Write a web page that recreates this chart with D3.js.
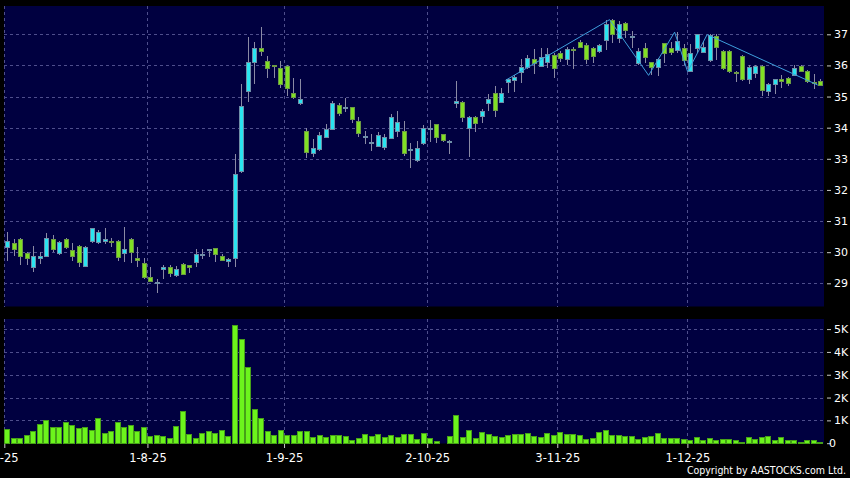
<!DOCTYPE html>
<html>
<head>
<meta charset="utf-8">
<script src="https://cdn.jsdelivr.net/npm/d3@7/dist/d3.min.js"></script>
<style>
  body { margin: 0; background: #000; }
  #chart { width: 850px; height: 478px; }
  text { font-family: "DejaVu Sans", sans-serif; }
</style>
</head>
<body>
<div id="chart"></div>
<script>
// Daily prices, one entry per trading day from 2-7-25
const openPrices = [
  30.16, 30.31, 30.41, 29.96, 29.51, 29.80, 29.89, 30.41, 29.96, 30.41,
  30.06, 30.19, 29.55, 30.35, 30.32, 30.35, 30.36, 30.35, 29.96, 30.41,
  29.80, 29.64, 29.19, 29.00, 29.45, 29.51, 29.26, 29.61, 29.58, 29.67,
  29.93, 30.09, 30.12, 29.87, 29.71, 29.80, 32.60, 35.17, 36.10, 36.55,
  36.13, 36.00, 35.91, 35.97, 35.10, 34.80, 33.89, 33.18, 33.32, 33.71,
  33.95, 34.72, 34.67, 34.67, 34.22, 33.74, 33.55, 33.42, 33.39, 33.66,
  33.90, 33.89, 33.30, 32.96, 33.50, 34.00, 34.11, 33.79, 33.53, 34.78,
  34.83, 34.00, 34.35, 34.38, 34.78, 35.10, 34.82, 35.48, 35.54, 35.78,
  35.94, 36.20, 35.98, 36.10, 36.33, 36.39, 36.20, 36.52, 36.74, 36.65,
  36.55, 36.47, 36.81, 37.47, 36.88, 37.35, 36.95, 36.07, 36.55, 36.10,
  35.94, 36.71, 36.55, 36.48, 36.55, 35.83, 36.55, 36.44, 36.17, 36.96,
  36.47, 36.47, 35.80, 36.30, 35.55, 35.75, 35.99, 35.19, 35.40, 35.57,
  35.59, 35.69, 35.99, 35.83, 35.48, 35.50
];
const highPrices = [
  30.64, 30.43, 30.45, 30.00, 30.19, 30.00, 30.60, 30.55, 30.35, 30.47,
  30.31, 30.22, 30.21, 30.78, 30.70, 30.77, 30.47, 30.38, 30.80, 30.45,
  30.16, 29.80, 29.53, 29.13, 29.58, 29.60, 29.55, 29.64, 29.60, 30.09,
  30.10, 30.10, 30.15, 29.93, 29.80, 33.14, 35.39, 36.90, 36.74, 37.22,
  36.30, 36.01, 36.13, 36.00, 35.59, 35.55, 33.98, 33.63, 33.87, 34.12,
  34.85, 34.80, 34.94, 34.68, 34.35, 33.89, 33.80, 33.87, 33.81, 34.43,
  34.54, 34.21, 33.50, 33.58, 34.09, 34.25, 34.11, 33.79, 33.60, 35.50,
  34.86, 34.38, 34.38, 34.59, 35.08, 35.34, 35.27, 35.56, 35.69, 36.20,
  36.33, 36.52, 36.55, 36.55, 36.40, 36.45, 36.60, 36.60, 36.83, 36.72,
  36.60, 36.69, 37.46, 37.50, 37.42, 37.38, 37.10, 36.55, 36.73, 36.12,
  36.23, 36.73, 36.76, 37.08, 36.70, 36.70, 37.00, 36.76, 37.00, 37.00,
  36.50, 36.50, 35.82, 36.32, 36.00, 36.02, 36.00, 35.42, 35.55, 35.69,
  35.62, 36.00, 36.02, 35.85, 35.72, 35.55
];
const lowPrices = [
  29.73, 29.88, 29.60, 29.60, 29.35, 29.62, 29.85, 30.02, 29.92, 30.09,
  29.73, 29.53, 29.53, 30.31, 30.25, 30.25, 30.17, 29.73, 29.68, 29.64,
  29.53, 29.15, 29.03, 28.70, 29.13, 29.19, 29.20, 29.26, 29.32, 29.51,
  29.77, 29.85, 29.70, 29.71, 29.53, 29.51, 32.55, 34.83, 35.40, 36.31,
  35.59, 35.59, 35.27, 35.03, 34.91, 34.73, 33.04, 33.07, 33.25, 33.66,
  33.93, 34.38, 34.51, 34.16, 33.69, 33.47, 33.26, 33.37, 33.29, 33.63,
  33.69, 33.09, 32.69, 32.90, 33.45, 33.55, 33.52, 33.55, 33.15, 34.64,
  34.19, 33.07, 33.87, 34.14, 34.55, 34.35, 34.80, 35.12, 35.16, 35.44,
  35.90, 35.71, 35.95, 35.93, 35.59, 36.10, 36.01, 35.88, 36.55, 36.05,
  36.07, 36.41, 36.50, 36.71, 36.71, 36.87, 36.55, 36.00, 36.07, 35.69,
  35.66, 36.09, 36.35, 36.40, 36.00, 35.80, 36.40, 36.39, 36.10, 36.17,
  35.85, 35.77, 35.48, 35.50, 35.40, 35.59, 35.02, 35.02, 35.08, 35.27,
  35.34, 35.65, 35.80, 35.45, 35.23, 35.35
];
const closePrices = [
  30.35, 30.09, 29.89, 29.80, 29.89, 29.89, 30.45, 30.09, 30.32, 30.16,
  29.87, 29.70, 30.16, 30.77, 30.64, 30.41, 30.33, 29.86, 30.09, 30.00,
  29.74, 29.19, 29.06, 29.05, 29.51, 29.32, 29.45, 29.29, 29.51, 29.93,
  29.93, 30.09, 29.93, 29.74, 29.77, 32.50, 34.69, 36.10, 36.55, 36.45,
  35.91, 35.97, 35.39, 35.27, 34.99, 34.91, 33.21, 33.34, 33.76, 33.95,
  34.78, 34.48, 34.67, 34.27, 33.82, 33.74, 33.55, 33.76, 33.69, 34.33,
  34.19, 33.18, 33.30, 33.36, 33.98, 34.00, 33.69, 33.60, 33.58, 34.86,
  34.35, 34.35, 34.14, 34.53, 34.92, 34.56, 35.10, 35.55, 35.62, 35.96,
  36.23, 36.09, 36.28, 36.36, 35.93, 36.23, 36.52, 36.50, 36.58, 36.20,
  36.29, 36.65, 37.33, 37.02, 37.34, 37.13, 36.95, 36.47, 36.28, 35.94,
  36.21, 36.39, 36.44, 36.77, 36.17, 36.41, 37.00, 36.58, 36.98, 36.58,
  35.91, 35.83, 35.75, 35.55, 35.96, 35.99, 35.21, 35.39, 35.55, 35.49,
  35.43, 35.91, 35.83, 35.51, 35.43, 35.37
];
const volumes = [
   630,  230,  230,  360,  520,  840, 1010,  730,  730,  940,
   790,  660,  690,  560, 1100,  430,  530,  940,  730,  790,
   530,  690,  300,  340,  310,  230,  750, 1430,  390,  240,
   440,  530,  430,  590,  300, 5160, 4560, 3330, 1520, 1110,
   530,  340,  580,  370,  370,  530,  530,  290,  360,  260,
   360,  360,  300,  150,  220,  420,  330,  420,  290,  340,
   290,  390,  420,  190,  460,  240,  110,   30,  330, 1230,
   280,  560,  210,  490,  390,  330,  280,  340,  400,  390,
   430,  330,  280,  450,  360,  480,  400,  420,  370,  170,
   230,  500,  580,  370,  370,  300,  300,  200,  280,  330,
   450,  230,  240,  240,  190,  140,  280,  150,  220,  150,
   200,  170,  140,   60,  280,  170,  280,  330,  120,  280,
   120,  120,   50,  140,  150,   50
];

// Zigzag overlay: day index and price of each turning point
const zigzagDays   = [77, 93, 99, 103, 105, 108, 125];
const zigzagPrices = [35.52, 37.47, 35.68, 37.07, 35.80, 36.99, 35.37];

// Axis ticks
const dateTickDays   = [0, 22, 43, 65, 85, 105];
const dateTickLabels = ["2-7-25", "1-8-25", "1-9-25", "2-10-25", "3-11-25", "1-12-25"];
const priceTicks     = [29, 30, 31, 32, 33, 34, 35, 36, 37];
const volumeTicks    = [0, 1000, 2000, 3000, 4000, 5000];

class CandleChart
{
  constructor(iHostElement)
  {
    this.width  = 850;
    this.height = 478;
    this.left   = 4.3;
    this.right  = 824;
    this.priceTop = 6;   this.priceBottom = 306.5;
    this.volTop   = 319; this.volBottom   = 443.5;

    this.upColor   = "#2ae4f0";
    this.downColor = "#80e024";
    this.gridColor = "#4e4e8c";
    this.panelColor = "#000040";

    this.svg = d3.select(iHostElement)
      .append("svg")
      .attr("width", this.width)
      .attr("height", this.height);

    this.n = closePrices.length;
    this.x = d3.scaleBand().domain(d3.range(this.n)).range([this.left, this.right]);
    this.xEdge = d3.scaleLinear().domain([0, this.n]).range([this.left, this.right]);
    this.y = d3.scaleLinear().domain([29, 37]).range([283.3, 34.3]);
    this.yVol = d3.scaleLinear().domain([0, 5000]).range([443.2, 329.1]);
  }

  drawPanels()
  {
    this.svg.append("rect").attr("width", this.width).attr("height", this.height).attr("fill", "#000");
    this.svg.append("rect")
      .attr("x", this.left).attr("y", this.priceTop)
      .attr("width", this.right - this.left).attr("height", this.priceBottom - this.priceTop)
      .attr("fill", this.panelColor);
    this.svg.append("rect")
      .attr("x", this.left).attr("y", this.volTop)
      .attr("width", this.right - this.left).attr("height", this.volBottom - this.volTop)
      .attr("fill", this.panelColor);
  }

  drawGrid()
  {
    let grid = this.svg.append("g")
      .attr("stroke", this.gridColor)
      .attr("stroke-dasharray", "3,3")
      .attr("shape-rendering", "crispEdges");

    // Horizontal lines
    grid.selectAll(".hp").data(priceTicks).enter().append("line")
      .attr("x1", this.left).attr("x2", this.right)
      .attr("y1", d => Math.round(this.y(d)) + 0.5).attr("y2", d => Math.round(this.y(d)) + 0.5);
    grid.selectAll(".hv").data(volumeTicks.slice(1)).enter().append("line")
      .attr("x1", this.left).attr("x2", this.right)
      .attr("y1", d => Math.round(this.yVol(d)) + 0.5).attr("y2", d => Math.round(this.yVol(d)) + 0.5);

    // Vertical lines in both panels
    [[this.priceTop, this.priceBottom], [this.volTop, this.volBottom]].forEach(r => {
      grid.selectAll(null).data(dateTickDays).enter().append("line")
        .attr("x1", d => Math.round(this.xEdge(d)) + 0.5).attr("x2", d => Math.round(this.xEdge(d)) + 0.5)
        .attr("y1", r[0]).attr("y2", r[1]);
    });
  }

  drawCandles()
  {
    let bw = this.x.bandwidth();
    let days = d3.range(this.n);
    let g = this.svg.append("g").attr("shape-rendering", "crispEdges");

    let cx = i => Math.floor(this.x(i) + bw / 2);

    // Wicks
    g.selectAll(".wick").data(days).enter().append("line")
      .attr("stroke", "#8a8aa4")
      .attr("x1", i => cx(i) + 0.5).attr("x2", i => cx(i) + 0.5)
      .attr("y1", i => Math.round(this.y(highPrices[i])))
      .attr("y2", i => Math.round(this.y(lowPrices[i])));

    // Bodies
    g.selectAll(".body").data(days).enter().append("rect")
      .attr("x", i => cx(i) - 1.5)
      .attr("width", 4)
      .attr("y", i => Math.round(this.y(Math.max(openPrices[i], closePrices[i]))) + 0.5)
      .attr("height", i => Math.max(1, Math.round(this.y(Math.min(openPrices[i], closePrices[i])))
                                    - Math.round(this.y(Math.max(openPrices[i], closePrices[i])))))
      .attr("fill", i => closePrices[i] >= openPrices[i] ? this.upColor : this.downColor)
      .attr("stroke", i => closePrices[i] >= openPrices[i] ? "#6f8fa8" : "#6c9a44");

    // Zigzag overlay, drawn half a day left like the source
    let zz = zigzagDays.map((d, k) => [this.x(d) + bw / 2 - 3, this.y(zigzagPrices[k])]);
    this.svg.append("path")
      .attr("d", d3.line()(zz))
      .attr("fill", "none")
      .attr("stroke", "#3e9edc")
      .attr("stroke-width", 1);
  }

  drawVolume()
  {
    let g = this.svg.append("g").attr("shape-rendering", "crispEdges");
    g.selectAll(".vol").data(d3.range(this.n)).enter().append("rect")
      .attr("x", i => Math.round(this.x(i)) + 0.5)
      .attr("width", 5)
      .attr("y", i => Math.round(this.yVol(volumes[i])) + 0.5)
      .attr("height", i => Math.round(this.yVol(0)) - Math.round(this.yVol(volumes[i])))
      .attr("fill", "#6cf41c")
      .attr("stroke", "#46a018");
  }

  drawAxes()
  {
    let priceAxis = d3.axisRight(this.y).tickValues(priceTicks).tickSize(4).tickPadding(3).tickFormat(d3.format("d"));
    let volAxis = d3.axisRight(this.yVol).tickValues(volumeTicks).tickSize(4).tickPadding(3)
      .tickFormat(d => d === 0 ? "0" : (d / 1000) + "K");
    let dateAxis = d3.axisBottom(this.xEdge).tickValues(dateTickDays).tickSize(4).tickPadding(6)
      .tickFormat((d, k) => dateTickLabels[k]);

    [[priceAxis, "translate(827,0)", 11], [volAxis, "translate(827,0)", 11], [dateAxis, "translate(0,444)", 11.5]].forEach(a => {
      let g = this.svg.append("g").attr("transform", a[1]).call(a[0]);
      g.select(".domain").remove();
      g.selectAll("line").attr("stroke", "#c8c8c8");
      g.selectAll("text").attr("fill", "#fff").attr("font-size", a[2])
        .attr("font-family", "DejaVu Sans, sans-serif");
    });

    // First date label sits half outside the left edge, as in the source
    this.svg.selectAll("g.tick").filter(d => d === 0 && this.xEdge(d) < 10)
      .select("text").attr("dx", -5);

    this.svg.append("text")
      .attr("x", 846).attr("y", 474)
      .attr("text-anchor", "end")
      .attr("fill", "#fff")
      .attr("font-size", 10.5)
      .attr("font-family", "DejaVu Sans Condensed, DejaVu Sans, sans-serif")
      .attr("font-stretch", "condensed")
      .text("Copyright by AASTOCKS.com Ltd.");
  }
}

let chart = new CandleChart(document.getElementById("chart"));
chart.drawPanels();
chart.drawGrid();
chart.drawVolume();
chart.drawCandles();
chart.drawAxes();
</script>
</body>
</html>
